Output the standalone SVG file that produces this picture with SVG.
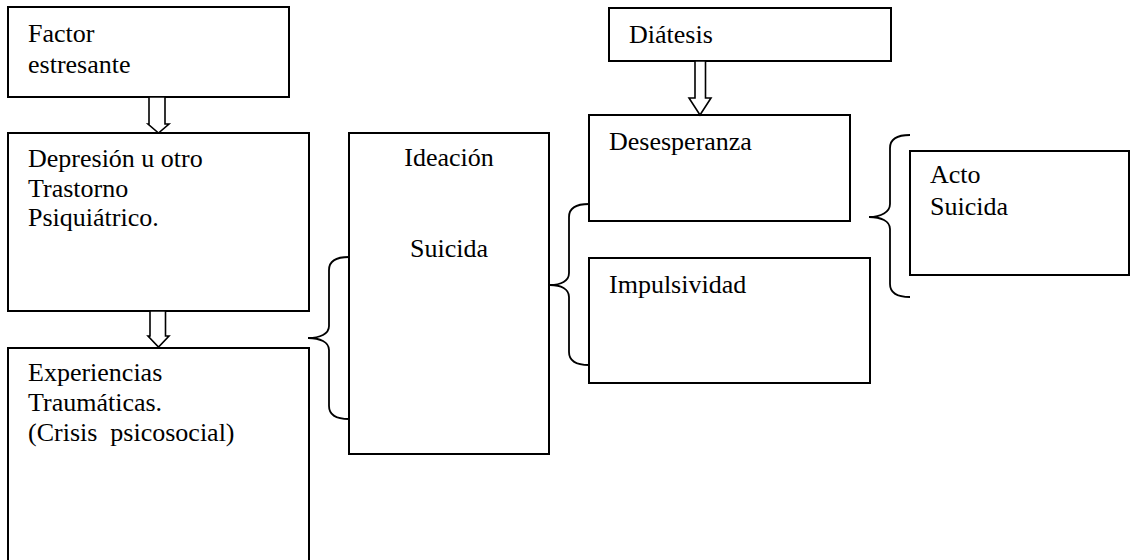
<svg xmlns="http://www.w3.org/2000/svg" width="1130" height="560" viewBox="0 0 1130 560">
<style>
.box{fill:#fff;stroke:#000;stroke-width:2}
.t{font-family:"Liberation Serif","Times New Roman",serif;font-size:26px;fill:#000;white-space:pre}
.c{text-anchor:middle}
.arr{fill:#fff;stroke:#000;stroke-width:1.6;stroke-linejoin:miter}
.br{fill:none;stroke:#000;stroke-width:1.8}
</style>
<rect width="1130" height="560" fill="#fff"/>
<g id="n-factor">
<rect class="box" x="8" y="7" width="281" height="90"/>
<text class="t" x="28" y="42">Factor</text>
<text class="t" x="28" y="73">estresante</text>
</g>
<g id="n-depresion">
<rect class="box" x="8" y="133" width="301" height="178"/>
<text class="t" x="28" y="167">Depresión u otro</text>
<text class="t" x="28" y="197">Trastorno</text>
<text class="t" x="28" y="226">Psiquiátrico.</text>
</g>
<g id="n-experiencias">
<rect class="box" x="8" y="348" width="301" height="230"/>
<text class="t" x="28" y="381">Experiencias</text>
<text class="t" x="28" y="411">Traumáticas.</text>
<text class="t" x="28" y="441" xml:space="preserve">(Crisis  psicosocial)</text>
</g>
<g id="n-ideacion">
<rect class="box" x="349" y="133" width="200" height="321"/>
<text class="t c" x="449" y="166">Ideación</text>
<text class="t c" x="449" y="257">Suicida</text>
</g>
<g id="n-diatesis">
<rect class="box" x="609" y="8" width="282" height="53"/>
<text class="t" x="629" y="43">Diátesis</text>
</g>
<g id="n-desesperanza">
<rect class="box" x="589" y="115" width="261" height="106"/>
<text class="t" x="609" y="150">Desesperanza</text>
</g>
<g id="n-impulsividad">
<rect class="box" x="589" y="258" width="281" height="125"/>
<text class="t" x="609" y="293">Impulsividad</text>
</g>
<g id="n-acto">
<rect class="box" x="910" y="151" width="219" height="124"/>
<text class="t" x="930" y="183">Acto</text>
<text class="t" x="930" y="215">Suicida</text>
</g>
<g id="connectors">
<path class="arr" d="M149,97 L165,97 L165,124 L169,124 L158.5,133 L148,124 L149,124 Z"/>
<path class="arr" d="M150,311 L165.5,311 L165.5,336 L169,336 L158.5,347 L148,336 L150,336 Z"/>
<path class="arr" d="M695,61 L705.5,61 L705.5,98 L711,98 L700,115 L689,98 L695,98 Z"/>
<path class="br" d="M349,257 C338,257 329,260 329,270 L329,326 C329,334 320,338 308,338 C320,338 329,342 329,350 L329,406 C329,416 338,419 349,419"/>
<path class="br" d="M589,204 C578,204 569,207 569,217 L569,273 C569,281 561,285 550,285 C561,285 569,289 569,297 L569,352 C569,362 578,365 589,365"/>
<path class="br" d="M910,135 C899,135 890,138 890,148 L890,204 C890,212 881,217 869,217 C881,217 890,221 890,229 L890,284 C890,294 899,297 910,297"/>
</g>
</svg>
